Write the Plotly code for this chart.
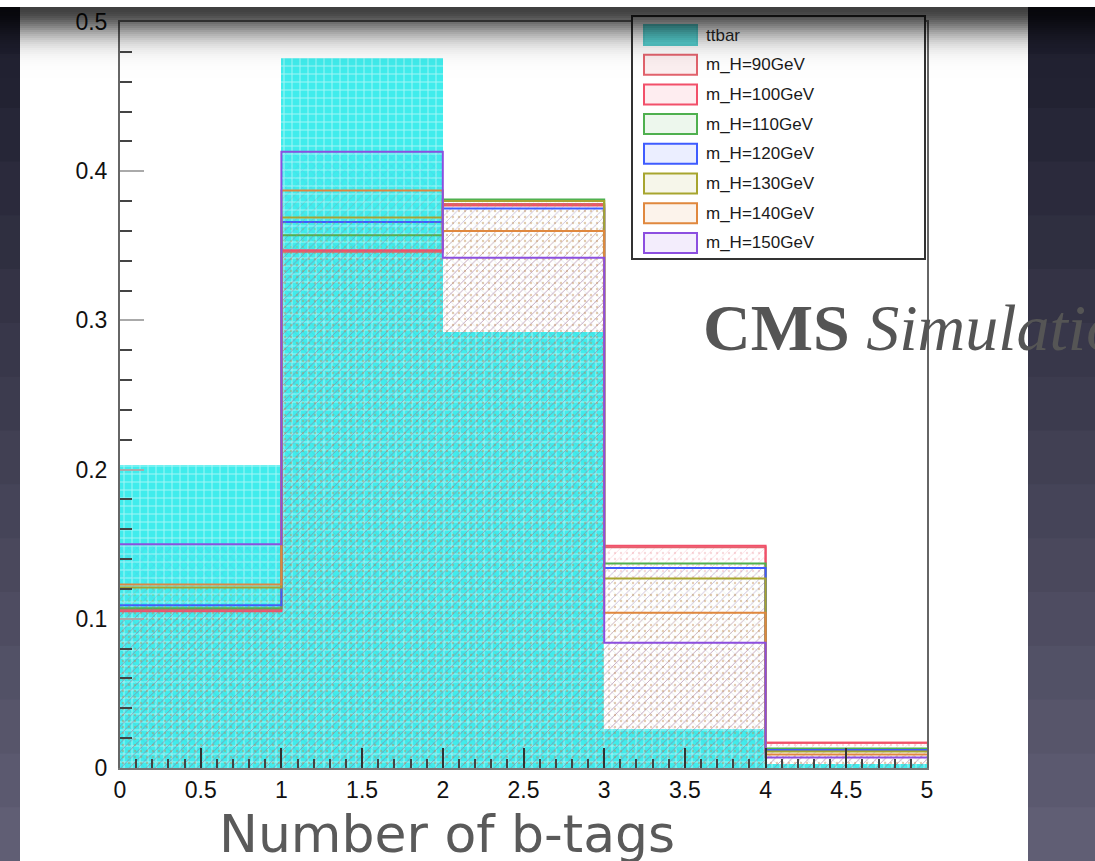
import math
import plotly.graph_objects as go

# ---------------- data ----------------
bin_edges = [0, 1, 2, 3, 4, 5]
ttbar = [0.203, 0.476, 0.292, 0.026, 0.003]
mH90 = [0.106, 0.346, 0.378, 0.148, 0.017]
mH100 = [0.105, 0.347, 0.377, 0.149, 0.017]
mH110 = [0.107, 0.357, 0.381, 0.137, 0.013]
mH120 = [0.109, 0.366, 0.375, 0.134, 0.012]
mH130 = [0.121, 0.369, 0.380, 0.127, 0.011]
mH140 = [0.123, 0.387, 0.360, 0.104, 0.009]
mH150 = [0.150, 0.413, 0.342, 0.084, 0.007]

signal_names = ["m_H=90GeV", "m_H=100GeV", "m_H=110GeV", "m_H=120GeV",
                "m_H=130GeV", "m_H=140GeV", "m_H=150GeV"]
signal_values = [mH90, mH100, mH110, mH120, mH130, mH140, mH150]
signal_colors = ["#e2636d", "#f2506a", "#4fb04f", "#3f5cff",
                 "#a7a52f", "#e0883e", "#8c4fe0"]
signal_rgb = [(226, 99, 109), (242, 80, 106), (79, 176, 79), (63, 92, 255),
              (167, 165, 47), (224, 136, 62), (140, 79, 224)]
signal_patterns = [".", "/", "x", "/", ".", "/", "x"]
ttbar_color = "#40ecec"

x_title = "Number of b-tags"

# ---------------- layout geometry ----------------
W, H = 1095, 861
L, R, T, B = 120, 927, 22, 768


def px(x):
    return (x - L) / (R - L)


def py(y):
    return (B - y) / (B - T)


fig = go.Figure()

centers = [(a + b) / 2 for a, b in zip(bin_edges[:-1], bin_edges[1:])]
widths = [b - a for a, b in zip(bin_edges[:-1], bin_edges[1:])]

fig.add_trace(go.Bar(
    x=centers, y=ttbar, width=widths, name="ttbar",
    marker=dict(color=ttbar_color, line=dict(width=0),
                pattern=dict(shape="+", fgcolor="rgba(255,255,255,0.55)",
                             bgcolor=ttbar_color, size=8, solidity=0.22,
                             fillmode="replace")),
    showlegend=False,
))

for name, vals, col, rgb, pat in zip(signal_names, signal_values, signal_colors,
                                     signal_rgb, signal_patterns):
    fig.add_trace(go.Scatter(
        x=bin_edges, y=vals + [vals[-1]], name=name, mode="lines",
        line=dict(color=col, width=2, shape="hv"),
        fill="tozeroy", fillcolor="rgba(0,0,0,0)",
        fillpattern=dict(shape=pat, fgcolor=col, fgopacity=0.24,
                         bgcolor="rgba(0,0,0,0)", size=6, solidity=0.12),
        showlegend=False,
    ))

shapes = []
annotations = []

# slide background strips (gradient) + white paper
n_bands = 16
top_c = (30, 30, 46)
bot_c = (96, 94, 116)
for i in range(n_bands):
    f = i / (n_bands - 1)
    c = tuple(int(top_c[k] + (bot_c[k] - top_c[k]) * f) for k in range(3))
    y0 = i * H / n_bands
    y1 = (i + 1) * H / n_bands + 1
    shapes.append(dict(type="rect", xref="paper", yref="paper", layer="below",
                       x0=px(0), x1=px(W), y0=py(y1), y1=py(y0),
                       fillcolor="rgb(%d,%d,%d)" % c, line=dict(width=0)))
shapes.append(dict(type="rect", xref="paper", yref="paper", layer="below",
                   x0=px(20), x1=px(1028), y0=py(H), y1=py(0),
                   fillcolor="white", line=dict(width=0)))

# legend box
shapes.append(dict(type="rect", xref="paper", yref="paper", layer="above",
                   x0=px(632), x1=px(925), y0=py(259), y1=py(16),
                   fillcolor="white", line=dict(color="#333", width=2)))
legend_names = ["ttbar"] + signal_names
legend_cols = ["#55d0d0"] + signal_colors
legend_fill = ["rgba(80,215,215,0.95)"] + ["rgba(%d,%d,%d,0.10)" % c for c in signal_rgb]
y_first, y_step = 35, 29.7
for i, (nm, col, fc) in enumerate(zip(legend_names, legend_cols, legend_fill)):
    yc = y_first + i * y_step
    shapes.append(dict(type="rect", xref="paper", yref="paper", layer="above",
                       x0=px(644), x1=px(697), y0=py(yc + 10), y1=py(yc - 10),
                       fillcolor=fc, line=dict(color=col, width=2)))
    annotations.append(dict(x=px(704), y=py(yc), xref="paper", yref="paper",
                            text=nm, showarrow=False, xanchor="left", yanchor="middle",
                            font=dict(family="Liberation Sans", size=17, color="#1a1a1a")))

# torn-paper shadow at the top (smooth fade)
yy = 6
while yy < 80:
    d = 0.75 * math.exp(-((yy - 7) / 28.0) ** 2)
    shapes.append(dict(type="rect", xref="paper", yref="paper", layer="above",
                       x0=px(0), x1=px(W), y0=py(yy + 2), y1=py(yy),
                       fillcolor="rgba(0,0,0,%.3f)" % d, line=dict(width=0)))
    yy += 2
shapes.append(dict(type="rect", xref="paper", yref="paper", layer="above",
                   x0=px(0), x1=px(W), y0=py(7), y1=py(0),
                   fillcolor="white", line=dict(width=0)))

annotations.append(dict(x=px(701), y=py(327), xref="paper", yref="paper",
                        text="<b>CMS</b> <i>Simulation</i>", showarrow=False,
                        xanchor="left", yanchor="middle",
                        font=dict(family="Liberation Serif", size=66, color="#555555")))
annotations.append(dict(x=px(447), y=py(834), xref="paper", yref="paper",
                        text=x_title, showarrow=False,
                        xanchor="center", yanchor="middle",
                        font=dict(family="DejaVu Sans", size=52, color="#5a5a5a")))

fig.update_layout(
    width=W, height=H,
    margin=dict(l=L, r=W - R, t=T, b=H - B, pad=0),
    paper_bgcolor="rgb(60,60,80)",
    plot_bgcolor="white",
    barmode="overlay", bargap=0,
    showlegend=False,
    shapes=shapes,
    annotations=annotations,
    xaxis=dict(range=[bin_edges[0], bin_edges[-1]], tickmode="linear", tick0=0, dtick=0.5,
               ticks="inside", ticklen=20, tickwidth=2, tickcolor="#333",
               minor=dict(ticks="inside", dtick=0.1, ticklen=9, tickwidth=2, tickcolor="#444"),
               showgrid=False, zeroline=False, showline=True, linecolor="#777",
               linewidth=2, mirror=True,
               tickfont=dict(family="Liberation Sans", size=23, color="#111"),
               automargin=False),
    yaxis=dict(range=[0, 0.5], tickmode="linear", tick0=0, dtick=0.1,
               ticks="inside", ticklen=24, tickwidth=2, tickcolor="#aaa",
               minor=dict(ticks="inside", dtick=0.02, ticklen=12, tickwidth=2, tickcolor="#444"),
               showgrid=False, zeroline=False, showline=True, linecolor="#666",
               linewidth=2, mirror=True, ticklabelstandoff=6,
               tickfont=dict(family="Liberation Sans", size=23, color="#111"),
               automargin=False),
)

fig.write_html("out.html",
               config={"displayModeBar": False},
               post_script="document.body.style.margin='0px';")
